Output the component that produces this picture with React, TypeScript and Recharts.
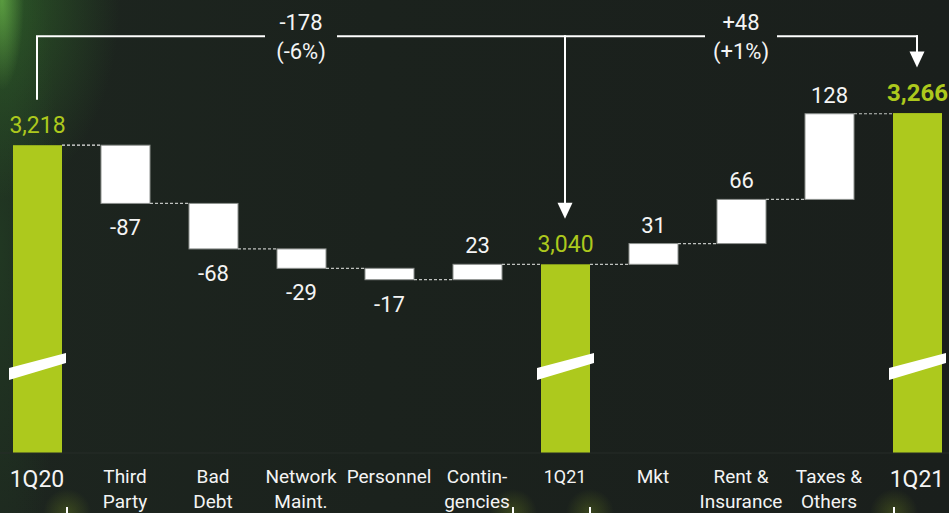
import React from 'react';
import { BarChart, Bar, XAxis, YAxis, ReferenceLine, ReferenceDot } from 'recharts';

// ---------- data ----------
const keys = ['q20', 'third', 'bad', 'network', 'personnel', 'contingencies', 'q21', 'mkt', 'rent', 'taxes', 'q21end'];
const tickLabels: string[][] = [
  ['1Q20'], ['Third', 'Party'], ['Bad', 'Debt'], ['Network', 'Maint.'], ['Personnel'],
  ['Contin-', 'gencies'], ['1Q21'], ['Mkt'], ['Rent &', 'Insurance'], ['Taxes &', 'Others'], ['1Q21'],
];
const values = [3218, -87, -68, -29, -17, 23, 3040, 31, 66, 128, 3266];
const isTotal = [true, false, false, false, false, false, true, false, false, false, true];
const valueLabels = ['3,218', '-87', '-68', '-29', '-17', '23', '3,040', '31', '66', '128', '3,266'];
const bigTicks = [true, false, false, false, false, false, false, false, false, false, true];

const bracketLeft = { from: 'q20', to: 'q21end', mid1: 'network', mid2: 'rent' };
const bracketTexts = [['-178', '(-6%)'], ['+48', '(+1%)']];

// axis (broken axis: floor of the visible scale)
const FLOOR = 2758;
const TOP = 3435;
const BRACKET_LEVEL = 3381;
const ARROW_GAP = 68;

// ---------- style ----------
const GREEN = '#adc91d';
const WHITE = '#f4f4f4';
const FONT = 'Roboto, "Noto Sans", sans-serif';
const CHART_W = 968;
const CHART_H = 513;
const BAR = 49;
const BAND = CHART_W / keys.length;
const TEXT_GAP = 36;

// build rows
let running = 0;
const rows = keys.map((k, i) => {
  let range: [number, number];
  if (isTotal[i]) {
    range = [FLOOR, values[i]];
    running = values[i];
  } else {
    const next = running + values[i];
    range = [Math.min(running, next), Math.max(running, next)];
    running = next;
  }
  return { key: k, range, value: values[i], total: isTotal[i], label: valueLabels[i], idx: i };
});

const BarShape = (p: any) => {
  const { x, y, width, height, payload } = p;
  const i = payload.idx;
  const last = i === keys.length - 1;
  const bottom = y + height;
  let level = y;
  if (!payload.total && payload.value < 0) level = bottom;
  const els: any[] = [];
  if (payload.total) {
    els.push(<rect key="r" x={x} y={y} width={width} height={height} fill={GREEN} />);
    els.push(
      <polygon
        key="brk"
        points={`${x - 4},${bottom - 85} ${x + width + 4},${bottom - 100} ${x + width + 4},${bottom - 90} ${x - 4},${bottom - 73}`}
        fill="#ffffff"
      />
    );
    els.push(
      <text key="t" x={x + width / 2} y={y - 12} textAnchor="middle" fill={GREEN}
        fontFamily={FONT} fontSize={last ? 24 : 23} fontWeight={last ? 700 : 400}>
        {payload.label}
      </text>
    );
  } else {
    els.push(<rect key="r" x={x} y={y} width={width} height={height} fill="#ffffff" stroke="#8d918e" strokeWidth={1} />);
    const ty = payload.value < 0 ? bottom + 32 : y - 11;
    els.push(
      <text key="t" x={x + width / 2} y={ty} textAnchor="middle" fill={WHITE} fontFamily={FONT} fontSize={22}>
        {payload.label}
      </text>
    );
  }
  if (!last) {
    els.push(
      <line key="c" x1={x + width} x2={x + BAND} y1={level} y2={level}
        stroke={i === 0 ? '#e8e8e8' : '#bfc2bf'} strokeWidth={1.2} strokeDasharray="3 2" />
    );
  }
  return <g>{els}</g>;
};

const Tick = (p: any) => {
  const { x, y, payload } = p;
  const i = payload.index ?? keys.indexOf(payload.value);
  const lines = tickLabels[i];
  if (bigTicks[i]) {
    return (
      <text x={x} y={y + 34} textAnchor="middle" fill={WHITE} fontFamily={FONT} fontSize={23}>
        {lines[0]}
      </text>
    );
  }
  const fs = i === 6 ? 18 : 19;
  return (
    <text x={x} y={y} textAnchor="middle" fill={WHITE} fontFamily={FONT} fontSize={fs}>
      {lines.map((l, j) => (
        <tspan key={j} x={x} y={y + 30 + j * 25}>{l}</tspan>
      ))}
    </text>
  );
};

const seg = (trimStart: number, trimEnd: number) => (p: any) => (
  <line x1={p.x1 + trimStart} x2={p.x2 - trimEnd} y1={p.y1} y2={p.y2} stroke="#ffffff" strokeWidth={2} />
);

const arrowShape = (p: any) => {
  const ah = 16;
  const aw = 7.5;
  return (
    <g>
      <line x1={p.x1} x2={p.x2} y1={p.y1 - 1} y2={p.y2 - ah + 1} stroke="#ffffff" strokeWidth={2} />
      <polygon points={`${p.x2 - aw},${p.y2 - ah} ${p.x2 + aw},${p.y2 - ah} ${p.x2},${p.y2}`} fill="#ffffff" />
    </g>
  );
};

const textDot = (lines: string[]) => (p: any) => (
  <g>
    <text x={p.cx} y={p.cy - 6} textAnchor="middle" fill={WHITE} fontFamily={FONT} fontSize={22}>{lines[0]}</text>
    <text x={p.cx} y={p.cy + 23} textAnchor="middle" fill={WHITE} fontFamily={FONT} fontSize={22}>{lines[1]}</text>
  </g>
);

const glowXs = [67, 513, 590, 894];

export default function App() {
  const bg = [
    'radial-gradient(ellipse 22px 90px at 2px 0px, rgba(120,200,80,0.6), rgba(0,0,0,0))',
    'radial-gradient(ellipse 120px 200px at 0px 0px, rgba(55,125,45,0.55), rgba(0,0,0,0))',
    'radial-gradient(ellipse 60px 380px at 0px 250px, rgba(40,90,40,0.35), rgba(0,0,0,0))',
    ...glowXs.map((gx) => `radial-gradient(circle 24px at ${gx}px 513px, rgba(150,180,30,0.25), rgba(0,0,0,0))`),
    'linear-gradient(90deg, #1d251f 0%, #1b221d 40%, #1a1f1c 100%)',
  ].join(', ');
  return (
    <div style={{ position: 'fixed', left: 0, top: 0, width: 949, height: 513, overflow: 'hidden', background: bg }}>
      {glowXs.map((gx) => (
        <div key={gx} style={{ position: 'absolute', left: gx - 1, top: 507, width: 2, height: 6, background: '#ffffff' }} />
      ))}
      <div style={{ position: 'absolute', left: -7, top: 0 }}>
        <BarChart width={CHART_W} height={CHART_H} data={rows} margin={{ top: 0, right: 0, bottom: 0, left: 0 }} barSize={BAR}>
          <XAxis dataKey="key" height={60} tickLine={false} tickSize={0} tickMargin={0}
            axisLine={{ stroke: '#262d28', strokeWidth: 1 }} tick={<Tick />} interval={0} />
          <YAxis hide type="number" domain={[FLOOR, TOP]} allowDataOverflow />
          <Bar dataKey="range" isAnimationActive={false} shape={<BarShape />} />
          {/* bracket */}
          <ReferenceLine ifOverflow="visible"
            segment={[{ x: bracketLeft.from, y: BRACKET_LEVEL }, { x: bracketLeft.from, y: values[0] + ARROW_GAP }]}
            shape={seg(0, 0)} />
          <ReferenceLine ifOverflow="visible"
            segment={[{ x: bracketLeft.from, y: BRACKET_LEVEL }, { x: bracketLeft.mid1, y: BRACKET_LEVEL }]}
            shape={seg(-1, TEXT_GAP)} />
          <ReferenceLine ifOverflow="visible"
            segment={[{ x: bracketLeft.mid1, y: BRACKET_LEVEL }, { x: bracketLeft.mid2, y: BRACKET_LEVEL }]}
            shape={seg(TEXT_GAP, TEXT_GAP)} />
          <ReferenceLine ifOverflow="visible"
            segment={[{ x: bracketLeft.mid2, y: BRACKET_LEVEL }, { x: bracketLeft.to, y: BRACKET_LEVEL }]}
            shape={seg(TEXT_GAP, -1)} />
          <ReferenceLine ifOverflow="visible"
            segment={[{ x: 'q21', y: BRACKET_LEVEL }, { x: 'q21', y: values[6] + ARROW_GAP }]}
            shape={arrowShape} />
          <ReferenceLine ifOverflow="visible"
            segment={[{ x: bracketLeft.to, y: BRACKET_LEVEL }, { x: bracketLeft.to, y: values[10] + ARROW_GAP }]}
            shape={arrowShape} />
          <ReferenceDot ifOverflow="visible" x={bracketLeft.mid1} y={BRACKET_LEVEL} r={0} shape={textDot(bracketTexts[0])} />
          <ReferenceDot ifOverflow="visible" x={bracketLeft.mid2} y={BRACKET_LEVEL} r={0} shape={textDot(bracketTexts[1])} />
        </BarChart>
      </div>
    </div>
  );
}
